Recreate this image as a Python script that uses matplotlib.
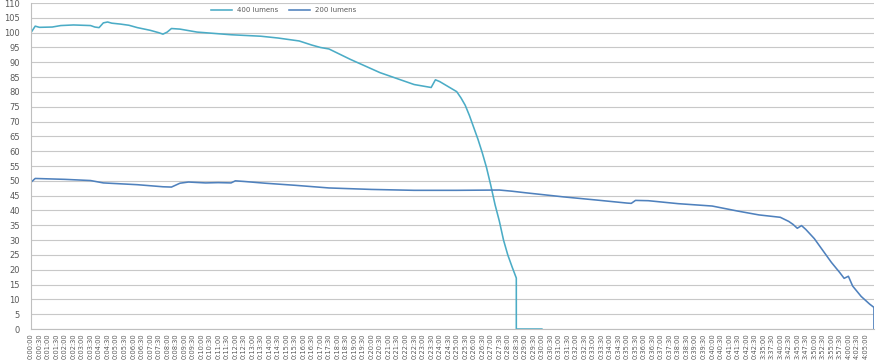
#runtime test: output vs time for two brightness levels
import numpy as np
import matplotlib.pyplot as plt

# tick labels on the category axis (one label every 2 readings)
labels = []
for m in range(43):
    for s in (0, 30):
        labels.append("0:%02d:%02d" % (m, s))
for t in range(215 * 60, 245 * 60 + 1, 150):
    labels.append("%d:%02d:%02d" % (t // 3600, (t % 3600) // 60, t % 60))

# 400 lumens: reading number, relative output
x400 = [0, 1, 2, 5, 7, 10, 14, 15, 16, 17, 18, 19, 21, 23, 25, 28, 30, 31, 32, 33, 35,
        39, 47, 54, 58, 63, 66, 68, 70, 75, 82, 90, 94, 95, 96, 100, 101, 102, 103,
        104, 105, 106, 107, 108, 109, 110, 111, 112, 113, 114, 114, 120]
y400 = [100.0, 102.2, 101.8, 101.9, 102.4, 102.6, 102.4, 101.9, 101.7, 103.3, 103.6, 103.2,
        102.9, 102.5, 101.7, 100.8, 100.0, 99.5, 100.2, 101.4, 101.2,
        100.2, 99.3, 98.8, 98.2, 97.2, 95.8, 95.0, 94.5, 91.0, 86.5, 82.5, 81.5, 84.1, 83.5,
        80.1, 78.0, 75.5, 72.0, 68.0, 64.0, 59.5, 54.5, 48.5, 42.0, 36.5, 30.0, 25.0, 21.0,
        17.2, 0.0, 0.0]

# 200 lumens
x200 = [0, 1, 8, 14, 17, 25, 31, 33, 35, 37, 41, 44, 47, 48, 50, 55, 62, 70, 80, 90, 100,
        110, 113, 116, 125, 133, 140, 141, 142, 145, 152, 160, 166, 171, 176, 178, 179,
        180, 181, 182, 184, 186, 188, 190, 191, 192, 193, 195, 197, 198, 198]
y200 = [49.5, 50.8, 50.5, 50.1, 49.3, 48.7, 48.0, 47.9, 49.2, 49.6, 49.3, 49.4, 49.3, 50.0,
        49.8, 49.2, 48.5, 47.6, 47.1, 46.8, 46.8,
        46.9, 46.5, 46.0, 44.6, 43.5, 42.5, 42.4, 43.4, 43.3, 42.3, 41.5, 39.8, 38.5, 37.7,
        36.3, 35.3, 34.0, 34.9, 33.6, 30.5, 26.5, 22.5, 19.0, 17.1, 17.8, 14.5, 11.0, 8.4,
        7.3, 0.0]

fig = plt.figure(figsize=(8.77, 3.61), dpi=100)
ax = fig.add_axes([0.0353, 0.0886, 0.9612, 0.903])

ax.plot(x400, y400, color="#4bacc6", linewidth=1.15, label="400 lumens")
ax.plot(x200, y200, color="#4f81bd", linewidth=1.15, label="200 lumens")

# axes look
ax.set_xlim(0, 198)
ax.set_ylim(0, 110)
ax.set_yticks(np.arange(0, 111, 5))
ax.set_xticks(np.arange(len(labels)) * 2)
ax.set_xticklabels(labels, rotation=90, fontsize=4.8, color="#595959")
ax.tick_params(axis="y", labelsize=6, colors="#595959", length=0, pad=8)
ax.tick_params(axis="x", length=0, pad=3)
ax.grid(axis="y", color="#c8c8c8", linewidth=0.8)
ax.set_axisbelow(True)
for side in ["top", "right"]:
    ax.spines[side].set_visible(False)
ax.spines["left"].set_color("#bfbfbf")
ax.spines["bottom"].set_color("#bfbfbf")

ax.legend(loc="center", bbox_to_anchor=(0.30, 0.978), ncol=2, frameon=False,
          fontsize=5, handlelength=3, columnspacing=1.5, labelcolor="#595959")

plt.savefig("out.png", dpi=100)
